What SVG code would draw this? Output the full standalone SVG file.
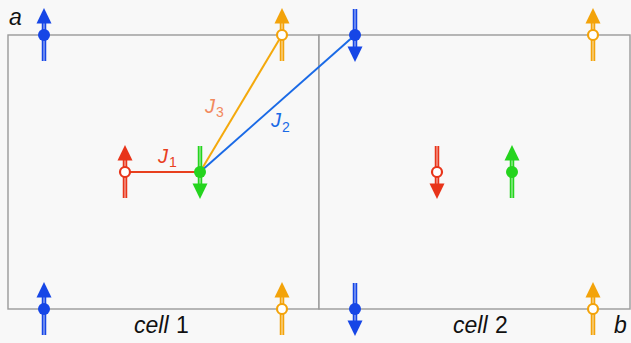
<svg xmlns="http://www.w3.org/2000/svg" xmlns:xlink="http://www.w3.org/1999/xlink" width="631" height="343" viewBox="0 0 631 343">
<style>
.cell{fill:#f8f8f8;stroke:#9a9a9a;stroke-width:1.4}
.lbl{font-family:"Liberation Sans",Arial,sans-serif;font-size:23px;fill:#111}
.it{font-style:italic}
.jl{font-family:"Liberation Sans",Arial,sans-serif;font-size:20px;font-style:italic}
.sub{font-family:"Liberation Sans",Arial,sans-serif;font-size:14px}
.blue{color:#1646e6}
.orange{color:#f3a30a}
.red{color:#e8341a}
.green{color:#25d41e}
.open{fill:#fff;stroke:currentColor;stroke-width:2.2}
.fillc{fill:currentColor}
</style>
<defs>
<g id="spinUp">
<line x1="0" y1="-14" x2="0" y2="26" stroke="currentColor" stroke-width="4.5"/>
<line x1="0" y1="-14" x2="0" y2="26" stroke="#ffffff" stroke-opacity="0.55" stroke-width="1.3"/>
<polygon points="0,-27 -7.5,-11.5 7.5,-11.5" fill="currentColor"/>
</g>
</defs>
<rect width="631" height="343" fill="#f8f8f8"/>
<g id="cells">
<rect class="cell" x="8" y="35" width="311" height="274"/>
<rect class="cell" x="319" y="35" width="311" height="274"/>
</g>
<g id="connectors">
<line x1="125" y1="172" x2="200" y2="172" stroke="#e8401e" stroke-width="2"/>
<line x1="200" y1="172" x2="282" y2="35" stroke="#f4a90c" stroke-width="2"/>
<line x1="200" y1="172" x2="355" y2="35" stroke="#1a6ae6" stroke-width="2"/>
</g>
<g id="s1" class="blue" transform="translate(44,35)"><use xlink:href="#spinUp"/><circle r="6" class="fillc"/></g>
<g id="s2" class="orange" transform="translate(282,35)"><use xlink:href="#spinUp"/><circle r="5" class="open"/></g>
<g id="s3" class="blue" transform="translate(355,35)"><use xlink:href="#spinUp" transform="rotate(180)"/><circle r="6" class="fillc"/></g>
<g id="s4" class="orange" transform="translate(593,35)"><use xlink:href="#spinUp"/><circle r="5" class="open"/></g>
<g id="s5" class="red" transform="translate(125,172)"><use xlink:href="#spinUp"/><circle r="5" class="open"/></g>
<g id="s6" class="green" transform="translate(200,172)"><use xlink:href="#spinUp" transform="rotate(180)"/><circle r="6" class="fillc"/></g>
<g id="s7" class="red" transform="translate(437,172)"><use xlink:href="#spinUp" transform="rotate(180)"/><circle r="5" class="open"/></g>
<g id="s8" class="green" transform="translate(512,172)"><use xlink:href="#spinUp"/><circle r="6" class="fillc"/></g>
<g id="s9" class="blue" transform="translate(44,309)"><use xlink:href="#spinUp"/><circle r="6" class="fillc"/></g>
<g id="s10" class="orange" transform="translate(282,309)"><use xlink:href="#spinUp"/><circle r="5" class="open"/></g>
<g id="s11" class="blue" transform="translate(355,309)"><use xlink:href="#spinUp" transform="rotate(180)"/><circle r="6" class="fillc"/></g>
<g id="s12" class="orange" transform="translate(593,309)"><use xlink:href="#spinUp"/><circle r="5" class="open"/></g>
<g id="labels">
<text class="lbl it" x="9" y="25">a</text>
<text class="lbl" x="134" y="333"><tspan class="it">cell</tspan><tspan dx="1"> 1</tspan></text>
<text class="lbl" x="453" y="333"><tspan class="it">cell</tspan><tspan dx="1"> 2</tspan></text>
<text class="lbl it" x="614" y="333">b</text>
<text x="158" y="163" fill="#e8401e"><tspan class="jl">J</tspan><tspan class="sub" dx="1" dy="4">1</tspan></text>
<text x="205" y="113" fill="#f28a5e"><tspan class="jl">J</tspan><tspan class="sub" dx="1" dy="4">3</tspan></text>
<text x="271" y="127" fill="#1a6ae6"><tspan class="jl">J</tspan><tspan class="sub" dx="1" dy="5">2</tspan></text>
</g>
</svg>
